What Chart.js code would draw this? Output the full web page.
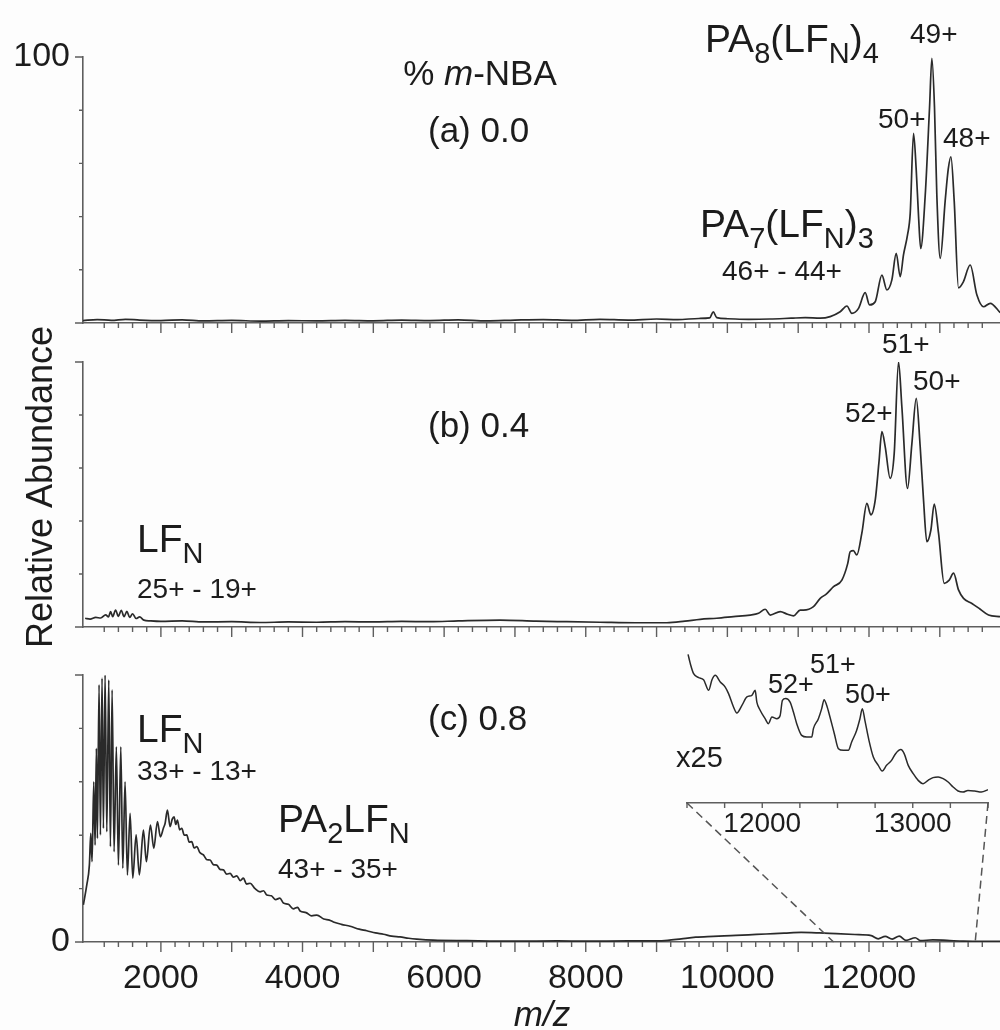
<!DOCTYPE html>
<html>
<head>
<meta charset="utf-8">
<script src="https://cdn.jsdelivr.net/npm/chart.js@4.4.1/dist/chart.umd.min.js"></script>
<style>
  html, body { margin: 0; padding: 0; width: 1000px; height: 1030px; overflow: hidden; background: #fdfdfd; }
  #fig { position: relative; width: 1000px; height: 1030px; }
  #fig canvas { position: absolute; left: 0; top: 0; }
</style>
</head>
<body>
<div id="fig">
  <canvas id="panelA" width="1000" height="1030"></canvas>
  <canvas id="panelB" width="1000" height="1030"></canvas>
  <canvas id="panelC" width="1000" height="1030"></canvas>
  <canvas id="inset" width="1000" height="1030"></canvas>
</div>
<script>
const mzA = [900, 1100, 1300, 1500, 1700, 2000, 2300, 2600, 3000, 3400, 3800, 4200, 4600, 5000, 5400, 5800,
  6200, 6600, 7000, 7400, 7800, 8200, 8600, 9000, 9300, 9600, 9750, 9800, 9850, 10000, 10300, 10600, 10900,
  11100, 11311, 11452, 11593, 11688, 11758, 11852, 11946, 12007, 12088, 12182, 12253, 12323, 12384, 12441,
  12487, 12544, 12582, 12629, 12667, 12700, 12730, 12794, 12855, 12888, 12925, 12958, 13006, 13076, 13120,
  13157, 13203, 13264, 13331, 13429, 13524, 13617, 13712, 13853];
const abundA = [0.9, 1.3, 1.0, 1.4, 1.1, 0.9, 1.2, 0.8, 1.0, 0.7, 0.9, 0.8, 1.0, 0.8, 1.1, 0.9,
  1.2, 0.8, 1.1, 1.3, 1.0, 1.4, 1.1, 1.5, 1.3, 1.7, 1.9, 4.2, 2.0, 1.6, 1.4, 1.5, 1.8,
  2.0, 1.8, 2.4, 4.2, 6.4, 3.6, 5.5, 11.4, 6.8, 8.0, 18.0, 12.4, 16.2, 26.2, 17.4,
  25.6, 33.1, 41.2, 71.3, 57.5, 40.0, 28.0, 48.0, 81.0, 99.5, 81.0, 48.0, 24.3, 46.0, 58.0,
  62.5, 46.0, 13.2, 15.4, 21.8, 10.5, 6.1, 7.4, 3.9];

const mzB = [930, 1000, 1080, 1150, 1220, 1260, 1290, 1320, 1360, 1400, 1440, 1480, 1520, 1560, 1600, 1650,
  1700, 1760, 1850, 2000, 2300, 2600, 3000, 3400, 3800, 4200, 4600, 5000, 5400, 5800, 6200, 6791, 7300,
  7733, 8200, 8700, 9145, 9400, 9616, 9850, 10086, 10322, 10440, 10534, 10605, 10746, 10850, 10934, 11028,
  11075, 11216, 11311, 11400, 11499, 11617, 11700, 11734, 11780, 11828, 11899, 11970, 12026, 12088, 12140,
  12182, 12229, 12299, 12356, 12417, 12464, 12544, 12606, 12667, 12723, 12770, 12817, 12874, 12921, 12982,
  13062, 13133, 13194, 13264, 13335, 13453, 13571, 13688, 13853];
const abundB = [3.3, 3.0, 3.6, 3.4, 4.6, 3.8, 5.8, 3.9, 6.4, 4.0, 6.3, 3.9, 5.9, 3.6, 5.0, 3.2,
  3.8, 2.6, 2.3, 2.1, 2.3, 1.9, 2.0, 1.7, 1.9, 1.8, 2.0, 1.9, 2.1, 2.0, 2.3, 2.6, 2.2,
  2.0, 1.8, 1.6, 1.6, 2.2, 2.9, 3.3, 3.9, 4.5, 5.2, 6.7, 4.5, 5.8, 4.8, 4.2, 6.4,
  6.4, 7.7, 10.8, 12.5, 15.2, 17.7, 24.0, 28.4, 28.8, 27.2, 35.4, 46.7, 42.3, 47.9, 62.0,
  73.7, 68.0, 56.1, 65.5, 100, 83.1, 52.3, 69.3, 86.3, 68.0, 47.9, 32.2, 36.6, 46.4, 35.4,
  16.5, 17.7, 20.3, 14.0, 10.8, 8.9, 6.7, 4.5, 3.9];

const mzC = [905, 953, 990, 1010, 1028, 1052, 1071, 1089, 1103, 1127, 1146, 1169, 1188, 1212, 1236, 1264,
  1287, 1311, 1339, 1371, 1400, 1434, 1462, 1494, 1527, 1565, 1603, 1650, 1696, 1753, 1795, 1852, 1900,
  1951, 1993, 2035, 2060, 2092, 2130, 2160, 2186, 2210, 2233, 2265, 2295, 2330, 2365, 2400, 2436, 2470,
  2507, 2550, 2601, 2650, 2695, 2740, 2789, 2835, 2883, 2930, 2977, 3024, 3072, 3120, 3165, 3210, 3260,
  3330, 3401, 3450, 3495, 3560, 3620, 3680, 3730, 3800, 3870, 3930, 3966, 4050, 4130, 4202, 4300, 4380,
  4436, 4550, 4672, 4800, 4908, 5030, 5143, 5260, 5378, 5500, 5614, 5849, 6320, 7000, 7600, 8000, 8600,
  9000, 9157, 9350, 9554, 9800, 10050, 10300, 10546, 10800, 11041, 11300, 11537, 11800, 12032, 12130,
  12229, 12328, 12427, 12525, 12653, 12726, 12900, 13100, 13335, 13600, 13853];
const abundC = [13.9, 21.3, 28.8, 40.7, 30.1, 60.0, 36.3, 72.5, 38.8, 96.3, 40.1, 98.8, 42.6, 100, 41.3, 98.1,
  35.7, 94.4, 33.8, 73.1, 28.8, 73.1, 27.6, 60.0, 25.1, 48.2, 23.9, 40.1, 25.1, 41.9, 30.1, 43.8, 35.1,
  45.1, 39.4, 42.6, 44.5, 49.4, 43.2, 46.0, 46.9, 44.0, 45.7, 42.0, 42.6, 40.0, 40.1, 37.4, 37.6, 35.2,
  35.7, 33.5, 32.6, 30.8, 30.7, 29.0, 28.8, 27.2, 27.0, 25.4, 25.7, 24.3, 24.8, 23.0, 23.9, 21.7, 22.0,
  20.0, 18.8, 19.2, 17.6, 17.3, 15.9, 16.4, 14.6, 14.1, 12.4, 13.0, 11.6, 11.0, 9.8, 10.1, 8.6, 8.2,
  7.5, 6.6, 5.9, 4.8, 4.2, 3.4, 2.9, 2.2, 1.9, 1.4, 1.1, 0.7, 0.5, 0.3, 0.4, 0.3, 0.4,
  0.4, 0.6, 1.2, 1.8, 2.1, 2.4, 2.7, 3.0, 3.3, 3.6, 3.4, 3.1, 2.8, 2.4, 1.2,
  2.1, 1.1, 2.2, 0.6, 1.6, 0.5, 0.8, 0.6, 0.3, 0.2, 0.2];

// ampliacion x25 de la region 11500-13500
const mzInset = [11507, 11522, 11544, 11577, 11610, 11644, 11666, 11688, 11721, 11754, 11776, 11809, 11831,
  11865, 11898, 11931, 11953, 11964, 11986, 12019, 12041, 12064, 12097, 12119, 12134, 12156, 12185, 12207,
  12229, 12262, 12296, 12329, 12340, 12373, 12395, 12411, 12428, 12450, 12479, 12506, 12539, 12572, 12594,
  12627, 12649, 12665, 12682, 12709, 12738, 12771, 12797, 12826, 12859, 12886, 12921, 12943, 12970, 13003,
  13036, 13069, 13102, 13135, 13169, 13202, 13235, 13268, 13301, 13334, 13367, 13412, 13456, 13500];
const abundInset = [99.1, 92.9, 86.2, 83.6, 82.2, 75.1, 82.2, 85.1, 80.7, 77.3, 72.9, 64.0, 60.0,
  65.1, 70.7, 71.8, 75.1, 67.3, 61.8, 56.2, 52.9, 57.3, 56.2, 58.4, 68.4, 69.6, 67.3, 60.7,
  52.9, 45.1, 44.0, 44.0, 49.6, 56.2, 62.9, 68.9, 65.1, 57.3, 46.2, 36.2, 35.1, 35.1, 40.7,
  48.4, 56.2, 62.9, 55.1, 41.8, 30.7, 25.1, 21.3, 25.1, 28.4, 32.9, 35.6, 32.9, 25.1, 19.6,
  15.1, 12.9, 15.1, 16.9, 17.3, 16.2, 14.0, 10.7, 8.0, 7.3, 8.4, 8.0, 7.3, 8.9];

const mainTickLabels = [2000, 4000, 6000, 8000, 10000, 12000];
const insetTickLabels = [12000, 13000];

// textos de cada panel
const notesA = [
  { text: '% *m*-NBA', x: 480, y: 85, size: 35, align: 'center' },
  { text: '(a) 0.0', x: 428, y: 142, size: 35 },
  { text: 'PA_{8}(LF_{N})_{4}', x: 705, y: 52, size: 39 },
  { text: '49+', x: 910, y: 43, size: 28 },
  { text: '50+', x: 878, y: 128, size: 28 },
  { text: '48+', x: 943, y: 147, size: 28 },
  { text: 'PA_{7}(LF_{N})_{3}', x: 700, y: 237, size: 39 },
  { text: '46+ - 44+', x: 722, y: 280, size: 28 }
];
const notesB = [
  { text: 'Relative Abundance', x: 42, y: 487, size: 36, rotate: true },
  { text: '(b) 0.4', x: 428, y: 437, size: 35 },
  { text: 'LF_{N}', x: 137, y: 552, size: 39 },
  { text: '25+ - 19+', x: 137, y: 598, size: 28 },
  { text: '52+', x: 845, y: 422, size: 28 },
  { text: '51+', x: 882, y: 353, size: 28 },
  { text: '50+', x: 913, y: 390, size: 28 }
];
const notesC = [
  { text: '(c) 0.8', x: 428, y: 730, size: 35 },
  { text: 'LF_{N}', x: 137, y: 742, size: 39 },
  { text: '33+ - 13+', x: 137, y: 780, size: 28 },
  { text: 'PA_{2}LF_{N}', x: 278, y: 832, size: 39 },
  { text: '43+ - 35+', x: 278, y: 878, size: 28 },
  { text: '*m/z*', x: 542, y: 1026, size: 35, align: 'center' }
];
const notesInset = [
  { text: 'x25', x: 676, y: 767, size: 29 },
  { text: '52+', x: 768, y: 693, size: 27 },
  { text: '51+', x: 810, y: 673, size: 27 },
  { text: '50+', x: 845, y: 703, size: 27 }
];

const FONT = "'Liberation Sans', Arial, Helvetica, sans-serif";
const TEXT_COLOR = '#1c1c1c';
const AXIS_COLOR = '#5e5e5e';
const TRACE_COLOR = '#2a2a2a';

Chart.defaults.font.family = FONT;
Chart.defaults.color = TEXT_COLOR;

// separa texto con subindices _{..} y cursiva *..*
function richParts(str) {
  const parts = [];
  const re = /_\{([^}]*)\}|\*([^*]*)\*|([^_*]+)/g;
  let m;
  while ((m = re.exec(str))) {
    if (m[1] !== undefined) parts.push({ t: m[1], sub: true });
    else if (m[2] !== undefined) parts.push({ t: m[2], it: true });
    else parts.push({ t: m[3] });
  }
  return parts;
}

function drawRich(ctx, n) {
  const parts = richParts(n.text);
  const subSize = Math.round(n.size * 0.74);
  const fontOf = p => (p.it ? 'italic ' : '') + (p.sub ? subSize : n.size) + 'px ' + FONT;
  let total = 0;
  parts.forEach(p => { ctx.font = fontOf(p); p.w = ctx.measureText(p.t).width; total += p.w; });
  ctx.save();
  ctx.fillStyle = TEXT_COLOR;
  ctx.textBaseline = n.rotate ? 'middle' : 'alphabetic';
  ctx.translate(n.x, n.y);
  if (n.rotate) ctx.rotate(-Math.PI / 2);
  let x = (n.align === 'center' || n.rotate) ? -total / 2 : 0;
  parts.forEach(p => {
    ctx.font = fontOf(p);
    ctx.fillText(p.t, x, p.sub ? n.size * 0.27 : 0);
    x += p.w;
  });
  ctx.restore();
}

const notesPlugin = {
  id: 'notes',
  afterDraw(chart, args, opts) {
    (opts.items || []).forEach(n => drawRich(chart.ctx, n));
  }
};

// marcas de los ejes: menores y mayores con distinta longitud
const tickMarks = {
  id: 'tickMarks',
  afterDraw(chart, args, o) {
    const ctx = chart.ctx, xs = chart.scales.x, ys = chart.scales.y;
    ctx.save();
    ctx.strokeStyle = AXIS_COLOR;
    ctx.lineWidth = 1.4;
    ctx.beginPath();
    xs.ticks.forEach(t => {
      if (t.value % o.xStep !== 0) return;
      const px = xs.getPixelForValue(t.value);
      const len = t.value % o.xMajor === 0 ? o.majorLen : o.minorLen;
      ctx.moveTo(px, xs.top);
      ctx.lineTo(px, xs.top + len);
    });
    if (ys.options.display) {
      ys.ticks.forEach(t => {
        const py = ys.getPixelForValue(t.value);
        const len = t.value % 50 === 0 ? 8 : 4;
        ctx.moveTo(ys.right, py);
        ctx.lineTo(ys.right - len, py);
      });
    }
    ctx.stroke();
    ctx.restore();
  }
};

function toPoints(xs, ys) {
  return xs.map((x, i) => ({ x: x, y: ys[i] }));
}

// el eje x no debe reservar margen lateral para sus etiquetas
function fixXAxis(height) {
  return s => { s.height = height; s.paddingLeft = 0; s.paddingRight = 0; };
}

function makePanel(id, mz, abund, top, bottom, opts) {
  return new Chart(document.getElementById(id), {
    type: 'line',
    data: {
      datasets: [{
        data: toPoints(mz, abund),
        borderColor: TRACE_COLOR,
        borderWidth: 1.7,
        pointRadius: 0,
        cubicInterpolationMode: 'monotone',
        fill: false
      }]
    },
    options: {
      responsive: false,
      animation: false,
      events: [],
      layout: { autoPadding: false, padding: { left: 0, right: 0, top: top, bottom: 0 } },
      plugins: {
        legend: { display: false },
        tooltip: { enabled: false },
        tickMarks: { xStep: 200, xMajor: 1000, minorLen: 5, majorLen: 10 },
        notes: { items: opts.notes }
      },
      scales: {
        x: {
          type: 'linear',
          min: 900,
          max: 13850,
          afterFit: fixXAxis(1030 - bottom),
          border: { color: AXIS_COLOR, width: 1.6 },
          grid: { drawOnChartArea: false, drawTicks: false },
          ticks: {
            stepSize: 200,
            autoSkip: false,
            maxRotation: 0,
            padding: 16,
            font: { size: 34 },
            callback: v => (opts.xLabels && mainTickLabels.includes(v)) ? String(v) : ''
          }
        },
        y: {
          min: 0,
          max: 100,
          afterFit: s => { s.width = 83; },
          border: { color: AXIS_COLOR, width: 1.6 },
          grid: { drawOnChartArea: false, drawTicks: false },
          ticks: {
            stepSize: 10,
            padding: 13,
            font: { size: 34 },
            callback: v => opts.yLabels.includes(v) ? String(v) : ''
          }
        }
      }
    },
    plugins: [tickMarks, notesPlugin]
  });
}

const chartA = makePanel('panelA', mzA, abundA, 57, 323, { notes: notesA, yLabels: [100] });
const chartB = makePanel('panelB', mzB, abundB, 362, 627, { notes: notesB, yLabels: [] });
const chartC = makePanel('panelC', mzC, abundC, 675, 942, { notes: notesC, yLabels: [0], xLabels: true });

// lineas discontinuas que unen la ampliacion con el eje principal
const zoomLinks = {
  id: 'zoomLinks',
  afterDraw(chart) {
    const ctx = chart.ctx, xs = chart.scales.x;
    const mx = chartC.scales.x, my = chartC.scales.y;
    ctx.save();
    ctx.strokeStyle = '#555';
    ctx.lineWidth = 1.5;
    ctx.setLineDash([8, 5]);
    ctx.beginPath();
    [xs.min, xs.max].forEach(v => {
      ctx.moveTo(xs.getPixelForValue(v), xs.top);
      ctx.lineTo(mx.getPixelForValue(v), my.getPixelForValue(0));
    });
    ctx.stroke();
    ctx.restore();
  }
};

const insetChart = new Chart(document.getElementById('inset'), {
  type: 'line',
  data: {
    datasets: [{
      data: toPoints(mzInset, abundInset),
      borderColor: TRACE_COLOR,
      borderWidth: 1.5,
      pointRadius: 0,
      cubicInterpolationMode: 'monotone',
      fill: false
    }]
  },
  options: {
    responsive: false,
    animation: false,
    events: [],
    layout: { autoPadding: false, padding: { left: 687, right: 12, top: 653, bottom: 0 } },
    plugins: {
      legend: { display: false },
      tooltip: { enabled: false },
      tickMarks: { xStep: 250, xMajor: 250, minorLen: 5, majorLen: 5 },
      notes: { items: notesInset }
    },
    scales: {
      x: {
        type: 'linear',
        min: 11500,
        max: 13500,
        afterFit: fixXAxis(1030 - 803),
        border: { color: AXIS_COLOR, width: 1.6 },
        grid: { drawOnChartArea: false, drawTicks: false },
        ticks: {
          stepSize: 250,
          autoSkip: false,
          maxRotation: 0,
          padding: 4,
          font: { size: 28 },
          callback: v => insetTickLabels.includes(v) ? String(v) : ''
        }
      },
      y: { display: false, min: 0, max: 100 }
    }
  },
  plugins: [tickMarks, notesPlugin, zoomLinks]
});
</script>
</body>
</html>
